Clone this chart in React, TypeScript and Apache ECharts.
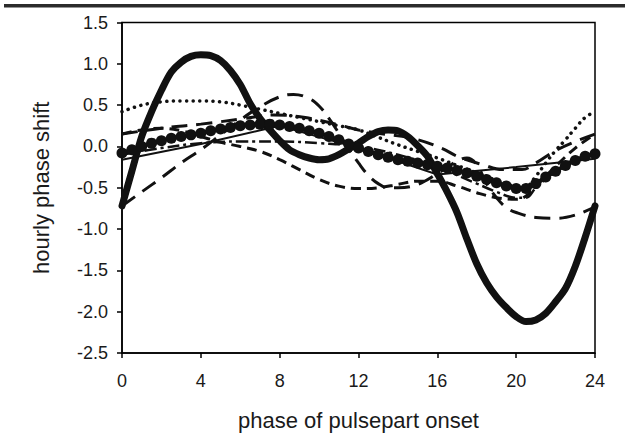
import React, { useEffect, useRef } from "react";
import * as echarts from "echarts";

// half-hour grid of onset phases (h)
const halfHours = [0,0.5,1,1.5,2,2.5,3,3.5,4,4.5,5,5.5,6,6.5,7,7.5,8,8.5,9,9.5,10,10.5,11,11.5,12,12.5,13,13.5,14,14.5,15,15.5,16,16.5,17,17.5,18,18.5,19,19.5,20,20.5,21,21.5,22,22.5,23,23.5,24];

// thick solid curve
const thickValues = [-0.72,-0.3,0.12,0.42,0.68,0.9,1.02,1.09,1.11,1.1,1.04,0.92,0.75,0.52,0.34,0.2,0.07,-0.04,-0.1,-0.14,-0.16,-0.15,-0.1,-0.03,0.04,0.12,0.18,0.2,0.19,0.12,0.01,-0.12,-0.33,-0.55,-0.8,-1.12,-1.42,-1.65,-1.82,-1.95,-2.06,-2.12,-2.1,-2.02,-1.88,-1.72,-1.45,-1.1,-0.72];

// line with large circle markers (mean curve)
const circleValues = [-0.08,-0.04,0.0,0.04,0.07,0.1,0.12,0.14,0.16,0.19,0.21,0.23,0.25,0.26,0.27,0.27,0.26,0.24,0.22,0.19,0.16,0.12,0.08,0.03,-0.02,-0.06,-0.1,-0.13,-0.16,-0.18,-0.2,-0.22,-0.24,-0.26,-0.29,-0.32,-0.36,-0.4,-0.44,-0.48,-0.51,-0.51,-0.45,-0.37,-0.3,-0.23,-0.17,-0.12,-0.09];

// small-dotted curve
const dotHours = [0,1,2,3,4,5,6,7,8,9,10,11,12,13,14,15,16,17,18,19,20,20.5,21,21.5,22,22.5,23,23.5,24];
const dotValues = [0.42,0.5,0.54,0.55,0.55,0.54,0.5,0.45,0.4,0.35,0.3,0.25,0.2,0.11,0.02,-0.06,-0.14,-0.23,-0.32,-0.41,-0.48,-0.48,-0.36,-0.2,-0.05,0.08,0.22,0.35,0.42];

// long-dash curve A
const longAHours = [0,1,2,3,4,5,6,7,8,8.7,9.5,10,10.5,11,11.5,12,12.5,13,13.5,14,15,16,17,17.5,18,18.5,19,19.5,20,21,22,23,24];
const longAValues = [-0.72,-0.55,-0.38,-0.2,-0.04,0.14,0.32,0.48,0.6,0.63,0.58,0.49,0.34,0.16,-0.03,-0.2,-0.35,-0.45,-0.5,-0.5,-0.46,-0.33,-0.18,-0.14,-0.22,-0.45,-0.62,-0.74,-0.8,-0.86,-0.87,-0.83,-0.73];

// long-dash curve B
const longBHours = [0,2,4,6,7.7,9.3,11,12,13,14.7,16.2,17.1,18.3,19.3,20.3,21,22,23,24];
const longBValues = [0.15,0.22,0.27,0.33,0.38,0.35,0.26,0.2,0.16,0.1,-0.02,-0.13,-0.22,-0.28,-0.28,-0.2,-0.05,0.06,0.15];

// medium-dash curve
const dashHours = [0,1,2,3,4,5,6,7,8,9,10,11,12,13,14,15,16,17,18,19,20,20.5,21,22,23,24];
const dashValues = [0.15,0.2,0.22,0.19,0.12,0.05,0.0,-0.06,-0.16,-0.28,-0.4,-0.48,-0.51,-0.5,-0.46,-0.42,-0.42,-0.48,-0.56,-0.62,-0.64,-0.6,-0.48,-0.24,-0.02,0.15];

// dash-dot curve
const dashDotHours = [0,2,4,6,8,10,12,14,16,18,19,20,20.5,21,22,23,24];
const dashDotValues = [-0.1,-0.02,0.04,0.06,0.06,0.04,0.0,-0.1,-0.25,-0.45,-0.55,-0.62,-0.62,-0.5,-0.3,-0.18,-0.1];

// thin solid (piecewise) curve
const thinHours = [0,4,8,12,16,20,24];
const thinValues = [-0.16,0.03,0.25,-0.02,-0.34,-0.25,-0.15];

const xTicks = { min: 0, max: 24, interval: 4 };
const yTicks = { min: -2.5, max: 1.5, interval: 0.5 };

const pair = (xs: number[], ys: number[]) => xs.map((x, i) => [x, ys[i]]);

export default function App() {
  const ref = useRef<HTMLDivElement>(null);
  useEffect(() => {
    if (!ref.current) return;
    const chart = echarts.init(ref.current, undefined, { renderer: "svg" });
    const ink = "#111";
    const font = "'Liberation Sans', Arial, Helvetica, sans-serif";
    chart.setOption({
      animation: false,
      backgroundColor: "#fff",
      graphic: [
        {
          type: "rect",
          shape: { x: 4, y: 4, width: 621, height: 3.5 },
          style: { fill: "#2b2b2b" },
          silent: true,
        },
      ],
      grid: {
        left: 122,
        right: 30,
        top: 22.5,
        bottom: 85,
        show: true,
        borderColor: "#000",
        borderWidth: 1.5,
        backgroundColor: "transparent",
      },
      xAxis: {
        type: "value",
        min: xTicks.min,
        max: xTicks.max,
        interval: xTicks.interval,
        name: "phase of pulsepart onset",
        nameLocation: "middle",
        nameGap: 56,
        nameTextStyle: { fontSize: 22, color: "#1a1a1a", fontFamily: font },
        axisLine: { show: true, onZero: false, lineStyle: { color: "#000", width: 1.5 } },
        axisTick: { show: true, length: 5, lineStyle: { color: "#000", width: 1.5 } },
        axisLabel: { fontSize: 18, color: "#1a1a1a", margin: 19, fontFamily: font },
        splitLine: { show: false },
      },
      yAxis: {
        type: "value",
        min: yTicks.min,
        max: yTicks.max,
        interval: yTicks.interval,
        name: "hourly phase shift",
        nameLocation: "middle",
        nameGap: 70,
        nameTextStyle: { fontSize: 22, color: "#1a1a1a", fontFamily: font },
        axisLine: { show: true, onZero: false, lineStyle: { color: "#000", width: 1.5 } },
        axisTick: { show: true, length: 5, lineStyle: { color: "#000", width: 1.5 } },
        axisLabel: {
          fontSize: 18,
          color: "#1a1a1a",
          margin: 14,
          fontFamily: font,
          formatter: (v: number) => v.toFixed(1),
        },
        splitLine: { show: false },
      },
      series: [
        {
          type: "line",
          data: pair(thinHours, thinValues),
          showSymbol: false,
          lineStyle: { color: ink, width: 2 },
        },
        {
          type: "line",
          data: pair(dashDotHours, dashDotValues),
          showSymbol: false,
          smooth: 0.4,
          lineStyle: { color: ink, width: 2.5, type: [12, 4, 3, 4] },
        },
        {
          type: "line",
          data: pair(dashHours, dashValues),
          showSymbol: false,
          smooth: 0.4,
          lineStyle: { color: ink, width: 3, type: [10, 6] },
        },
        {
          type: "line",
          data: pair(longBHours, longBValues),
          showSymbol: false,
          smooth: 0.4,
          lineStyle: { color: ink, width: 3, type: [16, 9] },
        },
        {
          type: "line",
          data: pair(longAHours, longAValues),
          showSymbol: false,
          smooth: 0.4,
          lineStyle: { color: ink, width: 3, type: [16, 9] },
        },
        {
          type: "line",
          data: pair(dotHours, dotValues),
          showSymbol: false,
          smooth: 0.4,
          lineStyle: { color: ink, width: 3.5, type: [0.1, 6.5], cap: "round" },
        },
        {
          type: "line",
          data: pair(halfHours, circleValues),
          symbol: "circle",
          symbolSize: 11,
          showSymbol: true,
          smooth: 0.3,
          itemStyle: { color: ink, borderWidth: 0 },
          lineStyle: { color: ink, width: 4 },
        },
        {
          type: "line",
          data: pair(halfHours, thickValues),
          showSymbol: false,
          smooth: 0.3,
          lineStyle: { color: ink, width: 7, cap: "round" },
        },
      ],
    });
    return () => chart.dispose();
  }, []);
  return (
    <div
      ref={ref}
      style={{ position: "fixed", left: 0, top: 0, width: 625, height: 438, background: "#fff" }}
    />
  );
}
